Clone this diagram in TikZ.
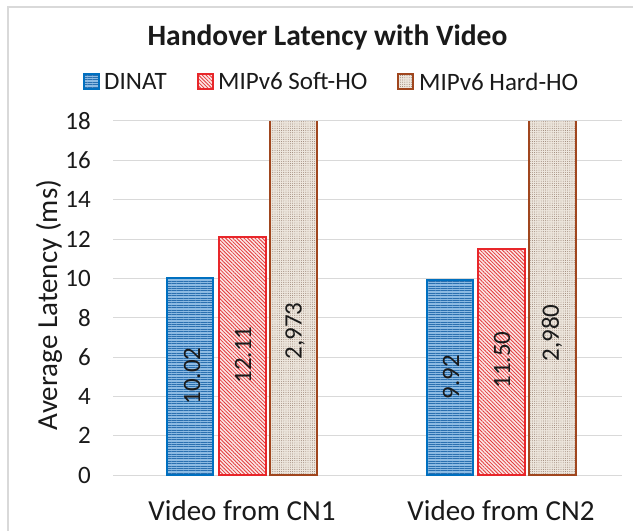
\documentclass[tikz,border=0pt]{standalone}
\usepackage{fontspec}
\setmainfont{Carlito}
\usetikzlibrary{patterns.meta}

\definecolor{framec}{HTML}{D9D9D9}
\definecolor{gridc}{HTML}{D9D9D9}
\definecolor{dinatbg}{HTML}{8DBBE3}
\definecolor{dinatln}{HTML}{2A70B0}
\definecolor{dinatbd}{HTML}{0070C0}
\definecolor{softbg}{HTML}{FCE6E6}
\definecolor{softln}{HTML}{E23A3A}
\definecolor{softbd}{HTML}{E8262A}
\definecolor{hardbg}{HTML}{EDE6DD}
\definecolor{hardln}{HTML}{8A7060}
\definecolor{hardbd}{HTML}{A0461E}
\definecolor{txt}{HTML}{1A1A1A}

\tikzset{
  ticklab/.style={font=\fontsize{25}{30}\selectfont, text=txt, anchor=east, inner sep=0pt},
  vallab/.style={font=\fontsize{25}{30}\selectfont, text=txt, rotate=90, inner sep=0pt},
  catlab/.style={font=\fontsize{29}{34}\selectfont, text=txt, inner sep=0pt},
  leglab/.style={font=\fontsize{25}{30}\selectfont, text=txt, anchor=west, inner sep=0pt},
  dinatbar/.style={preaction={fill=dinatbg}, pattern={Lines[angle=0, distance=2.4pt, line width=1pt]}, pattern color=dinatln, draw=dinatbd, line width=2pt},
  softbar/.style={preaction={fill=softbg}, pattern={Lines[angle=-45, distance=2.6pt, line width=0.8pt]}, pattern color=softln, draw=softbd, line width=2pt},
  hardfill/.style={preaction={fill=hardbg}, pattern={Dots[distance=2.2pt, radius=0.45pt]}, pattern color=hardln},
  hardedge/.style={draw=hardbd, line width=2pt},
  gridline/.style={draw=gridc, line width=1pt}
}

\begin{document}
\begin{tikzpicture}[x=1pt,y=-1pt]
\useasboundingbox (0,0) rectangle (633,531);
\fill[white] (0,0) rectangle (633,531);
% outer chart frame
\draw[framec, line width=1.5pt] (8,531) -- (8,7) -- (633,7);

% title
\node[font=\bfseries\fontsize{29.5}{34}\selectfont, text=txt] (title) at (327.5,37) {Handover Latency with Video};

% legend
\path[dinatbar, line width=1.2pt] (84,74) rectangle (99,89);
\node[leglab] (legA) at (104,81.5) {DINAT};
\path[softbar, line width=1.2pt] (198,74) rectangle (213,89);
\node[leglab] (legB) at (218,81.5) {MIPv6 Soft-HO};
\path[hardfill] (398,74) rectangle (413,89);
\draw[hardedge, line width=1.2pt] (398,74) rectangle (413,89);
\node[leglab] (legC) at (419,81.5) {MIPv6 Hard-HO};

% gridlines and tick labels
\foreach \v in {0,2,...,18} {
  \draw[gridline] (113,{475-\v*19.667}) -- (622,{475-\v*19.667});
  \node[ticklab] (tick\v) at (91,{475-\v*19.667}) {\v};
}

% axis title
\node[catlab, rotate=90] (ytitle) at (49,305) {Average Latency (ms)};

% group 1: video from CN1
\path[dinatbar] (167,475) rectangle (213,277.9);
\path[softbar] (219,475) rectangle (266,236.8);
\path[hardfill] (270,475) rectangle (317,121);
\draw[hardedge] (270,121) -- (270,475) -- (317,475) -- (317,121);

% group 2: video from CN2
\path[dinatbar] (427,475) rectangle (473,279.9);
\path[softbar] (478,475) rectangle (525,248.8);
\path[hardfill] (529,475) rectangle (576,121);
\draw[hardedge] (529,121) -- (529,475) -- (576,475) -- (576,121);

% value labels
\node[vallab] (v1) at (192,376) {10.02};
\node[vallab] (v2) at (243,355) {12.11};
\node[vallab] (v3) at (295,331) {2,973};
\node[vallab] (v4) at (451,377) {9.92};
\node[vallab] (v5) at (502,360) {11.50};
\node[vallab] (v6) at (552,333) {2,980};

% category labels
\node[catlab] (cat1) at (242,511) {Video from CN1};
\node[catlab] (cat2) at (501,511) {Video from CN2};
\end{tikzpicture}
\end{document}
